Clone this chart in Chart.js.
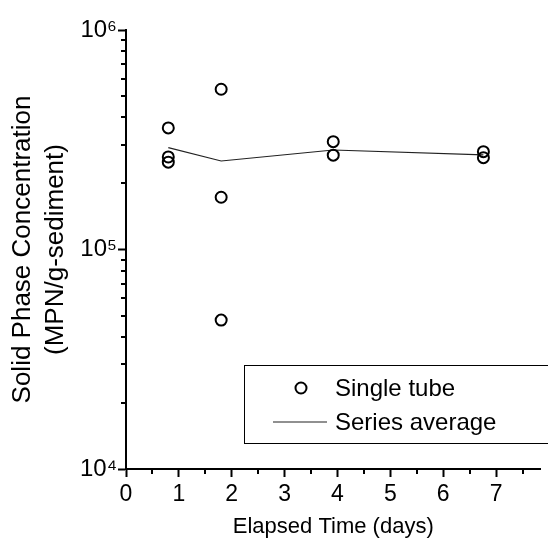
<!DOCTYPE html>
<html>
<head>
<meta charset="utf-8">
<script src="https://cdn.jsdelivr.net/npm/chart.js@4"></script>
<style>
  html, body { margin: 0; padding: 0; background: #fff; overflow: hidden; }
  #wrap { width: 548px; height: 540px; }
</style>
</head>
<body>
<div id="wrap"><canvas id="chart" width="548" height="540"></canvas></div>
<script>
// Single tube measurements (days, MPN/g-sediment)
const tubeDays = [0.8, 0.8, 0.8, 1.8, 1.8, 1.8, 3.92, 3.92, 6.76, 6.76];
const tubeMPN = [358000, 264000, 250000, 537000, 173000, 47700, 310000, 269000, 279000, 262000];

// Series average line
const avgDays = [0.8, 1.8, 3.92, 6.76];
const avgMPN = [291000, 253000, 284000, 270000];

// Axis ticks
const yDecades = [1e4, 1e5, 1e6];
const yTickLabels = ["10⁴", "10⁵", "10⁶"];
const xTicks = [0, 1, 2, 3, 4, 5, 6, 7];

const legendLabels = ["Single tube", "Series average"];

const FONT = "'Liberation Sans', Arial, sans-serif";

// Minor ticks on both axes
const minorTicks = {
  id: "minorTicks",
  afterDraw(chart) {
    const ctx = chart.ctx;
    const xs = chart.scales.x, ys = chart.scales.y;
    ctx.save();
    ctx.strokeStyle = "#000";
    ctx.lineWidth = 2;
    ctx.beginPath();
    for (let i = 0; i < yDecades.length - 1; i++) {
      for (let k = 2; k <= 9; k++) {
        const py = Math.round(ys.getPixelForValue(yDecades[i] * k));
        ctx.moveTo(xs.left - 5, py);
        ctx.lineTo(xs.left, py);
      }
    }
    for (let i = 0; i < xTicks.length; i++) {
      const v = xTicks[i] + 0.5;
      if (v > xs.max) continue;
      const px = Math.round(xs.getPixelForValue(v));
      ctx.moveTo(px, ys.bottom);
      ctx.lineTo(px, ys.bottom + 5);
    }
    ctx.stroke();
    ctx.restore();
  }
};

// Boxed legend inside the plot area
const boxLegend = {
  id: "boxLegend",
  afterDraw(chart) {
    const ctx = chart.ctx;
    const area = chart.chartArea;
    const x0 = area.left + 118, y0 = area.bottom - 104;
    ctx.save();
    ctx.strokeStyle = "#000";
    ctx.lineWidth = 1;
    ctx.strokeRect(x0 + 0.5, y0 + 0.5, 320, 78);
    // marker
    ctx.lineWidth = 2;
    ctx.beginPath();
    ctx.arc(x0 + 57, y0 + 23, 5.5, 0, Math.PI * 2);
    ctx.stroke();
    // line
    ctx.lineWidth = 1.2;
    ctx.strokeStyle = "#222";
    ctx.beginPath();
    ctx.moveTo(x0 + 29, y0 + 57);
    ctx.lineTo(x0 + 83, y0 + 57);
    ctx.stroke();
    ctx.fillStyle = "#000";
    ctx.font = "24px " + FONT;
    ctx.textBaseline = "middle";
    ctx.fillText(legendLabels[0], x0 + 91, y0 + 24);
    ctx.fillText(legendLabels[1], x0 + 91, y0 + 58);
    ctx.restore();
  }
};

new Chart(document.getElementById("chart"), {
  type: "scatter",
  data: {
    datasets: [
      {
        label: legendLabels[0],
        data: tubeDays.map((d, i) => ({ x: d, y: tubeMPN[i] })),
        pointRadius: 5.5,
        pointBorderWidth: 2,
        pointBorderColor: "#000",
        pointBackgroundColor: "rgba(0,0,0,0)",
        showLine: false
      },
      {
        label: legendLabels[1],
        data: avgDays.map((d, i) => ({ x: d, y: avgMPN[i] })),
        showLine: true,
        borderColor: "#222",
        borderWidth: 1.2,
        pointRadius: 0,
        tension: 0
      }
    ]
  },
  options: {
    responsive: false,
    animation: false,
    layout: { padding: { top: 30, right: 0, left: 2, bottom: 0 } },
    plugins: { legend: { display: false }, tooltip: { enabled: false } },
    scales: {
      x: {
        type: "linear",
        min: 0,
        max: 7.84,
        afterBuildTicks: (scale) => { scale.ticks = xTicks.map(v => ({ value: v })); },
        afterFit: (scale) => { scale.height = 71; },
        ticks: { color: "#000", font: { family: FONT, size: 23 }, padding: 4 },
        grid: { drawOnChartArea: false, drawTicks: true, tickLength: 8, tickWidth: 2, tickColor: "#000" },
        border: { display: true, color: "#000", width: 2 },
        title: { display: true, text: "Elapsed Time (days)", color: "#000", font: { family: FONT, size: 22 }, padding: { top: 0, bottom: 0 } }
      },
      y: {
        type: "logarithmic",
        min: 1e4,
        max: 1e6,
        afterBuildTicks: (scale) => { scale.ticks = yDecades.map(v => ({ value: v })); },
        afterFit: (scale) => { scale.width = 124; },
        ticks: {
          color: "#000",
          font: { family: FONT, size: 24 },
          padding: 1,
          callback: (v) => yTickLabels[yDecades.indexOf(v)] || ""
        },
        grid: { drawOnChartArea: false, drawTicks: true, tickLength: 8, tickWidth: 2, tickColor: "#000" },
        border: { display: true, color: "#000", width: 2 },
        title: {
          display: true,
          text: ["Solid Phase Concentration", "(MPN/g-sediment)"],
          color: "#000",
          font: { family: FONT, size: 26, lineHeight: 1.27 },
          padding: { top: 4, bottom: 0 }
        }
      }
    }
  },
  plugins: [minorTicks, boxLegend]
});
</script>
</body>
</html>
